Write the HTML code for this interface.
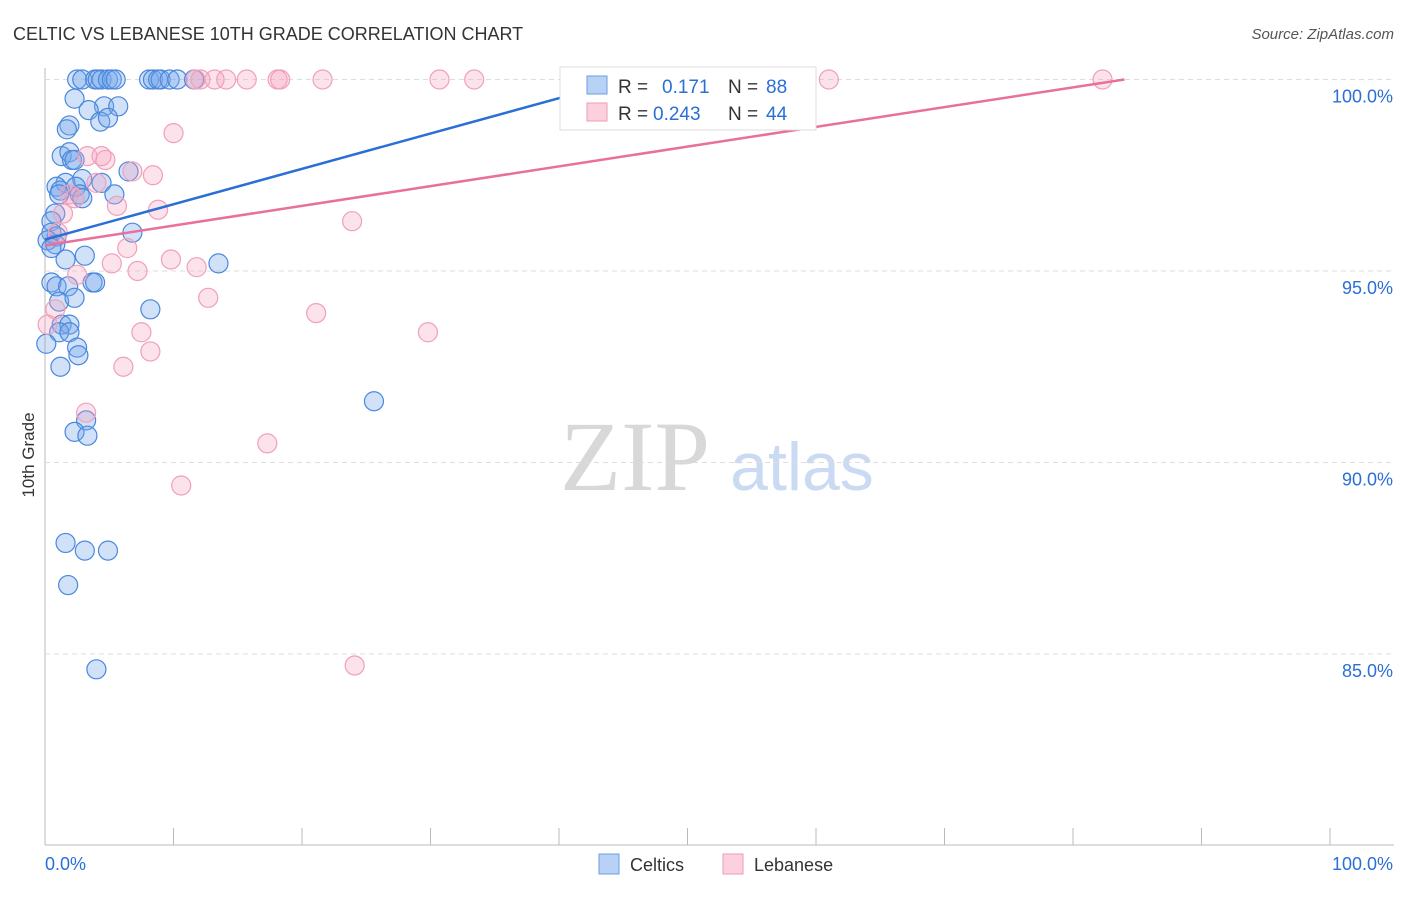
<!DOCTYPE html>
<html><head><meta charset="utf-8"><style>
body{margin:0;background:#fff;font-family:"Liberation Sans",sans-serif}
</style></head><body>
<svg id="c" width="1406" height="892" font-family="Liberation Sans, sans-serif">
<text x="13" y="40" font-size="18" fill="#333">CELTIC VS LEBANESE 10TH GRADE CORRELATION CHART</text>
<text x="1394" y="39" font-size="15" fill="#555" text-anchor="end" font-style="italic">Source: ZipAtlas.com</text>
<text x="34" y="455" font-size="17" fill="#333" transform="rotate(-90 34 455)" text-anchor="middle">10th Grade</text>
<text x="635" y="490" font-size="100" fill="#d8d8d8" text-anchor="middle" style="font-family:'Liberation Serif',serif">ZIP</text>
<text x="802" y="490" font-size="68" fill="#c9daf2" text-anchor="middle">atlas</text>
<g id="grid"></g><g id="pts"></g><g id="lines"></g>
<g>
<rect x="560" y="67" width="256" height="63" fill="#fff" stroke="#ddd"/>
<rect x="587" y="76" width="20" height="18" fill="#b7d2f5" stroke="#6a9fe0"/>
<rect x="587" y="103" width="20" height="18" fill="#fcd0dd" stroke="#f09ab5"/>
<text x="618" y="93" font-size="19" fill="#333">R =</text>
<text x="662" y="93" font-size="19" fill="#2a6fd6">0.171</text>
<text x="728" y="93" font-size="19" fill="#333">N =</text>
<text x="766" y="93" font-size="19" fill="#2a6fd6">88</text>
<text x="618" y="120" font-size="19" fill="#333">R =</text>
<text x="653" y="120" font-size="19" fill="#2a6fd6">0.243</text>
<text x="728" y="120" font-size="19" fill="#333">N =</text>
<text x="766" y="120" font-size="19" fill="#2a6fd6">44</text>
</g>
<g>
<rect x="599" y="854" width="20" height="20" fill="#b7d2f5" stroke="#6a9fe0"/>
<text x="630" y="871" font-size="18" fill="#333">Celtics</text>
<rect x="723" y="854" width="20" height="20" fill="#fcd0dd" stroke="#f09ab5"/>
<text x="754" y="871" font-size="18" fill="#333">Lebanese</text>
</g>
</svg>
<script>
const yTicks=[100,95,90,85];
const xTickLabels=["0.0%","100.0%"];
const blueX=[2.5,2.9,3.9,4.1,4.4,4.9,5.2,5.5,8.1,8.4,8.8,9.0,9.7,10.3,11.6,50,2.3,4.6,3.4,5.7,4.3,4.9,1.9,1.7,1.3,1.9,2.1,2.3,6.5,1.6,2.9,0.9,1.2,2.4,2.7,4.4,5.4,1.1,2.9,0.8,0.5,0.5,0.9,6.8,0.2,0.8,0.5,1.6,3.1,13.5,0.5,0.9,3.7,3.9,1.8,1.1,2.3,8.2,1.3,1.9,1.1,1.9,0.1,2.5,2.6,1.2,25.6,3.2,2.3,3.3,1.6,3.1,4.9,1.8,4.0];
const blueY=[100,100,100,100,100,100,100,100,100,100,100,100,100,100,100,100,99.5,99.3,99.2,99.3,98.9,99.0,98.8,98.7,98.0,98.1,97.9,97.9,97.6,97.3,97.4,97.2,97.1,97.2,97.0,97.3,97.0,97.0,96.9,96.5,96.3,96.0,95.9,96.0,95.8,95.7,95.6,95.3,95.4,95.2,94.7,94.6,94.7,94.7,94.6,94.2,94.3,94.0,93.6,93.6,93.4,93.4,93.1,93.0,92.8,92.5,91.6,91.1,90.8,90.7,87.9,87.7,87.7,86.8,84.6];
const pinkX=[11.7,12.1,13.2,14.1,15.7,18.1,18.3,21.6,30.7,33.4,61.0,82.3,10.0,3.3,4.4,4.7,6.8,8.4,4.0,1.9,2.3,5.6,8.8,1.4,23.9,1.0,6.4,2.5,5.2,7.2,9.8,11.8,12.7,0.8,21.1,29.8,7.5,8.2,6.1,17.3,3.2,10.6,24.1,0.2];
const pinkY=[100,100,100,100,100,100,100,100,100,100,100,100,98.6,98.0,98.0,97.9,97.6,97.5,97.3,97.0,96.9,96.7,96.6,96.5,96.3,96.0,95.6,94.9,95.2,95.0,95.3,95.1,94.3,94.0,93.9,93.4,93.4,92.9,92.5,90.5,91.3,89.4,84.7,93.6];
const blueLine=[[0,95.82],[43,99.79]];
const pinkLine=[[0,95.67],[84,100]];
const X=v=>45+v*12.85, Y=v=>79.5+(100-v)*38.3;
const NS="http://www.w3.org/2000/svg";
function mk(t,a,p){const e=document.createElementNS(NS,t);for(const k in a)e.setAttribute(k,a[k]);document.getElementById(p).appendChild(e);return e;}
let ax=mk('line',{x1:45,y1:68,x2:45,y2:845,stroke:'#bbb'},'grid');


let bx=mk('line',{x1:45,y1:845,x2:1394,y2:845,stroke:'#bbb'},'grid');


for(let i=1;i<=10;i++){const t=mk('line',{x1:X(i*10),y1:828,x2:X(i*10),y2:845,stroke:'#bbb'},'grid');

}
yTicks.forEach(v=>{const g=mk('line',{x1:45,y1:Y(v),x2:1394,y2:Y(v),stroke:'#ddd','stroke-dasharray':'5,4'},'grid');


const t=mk('text',{x:1393,y:Y(v)+23,'font-size':18,fill:'#2a6fd6','text-anchor':'end'},'grid');t.textContent=v.toFixed(1)+'%';

});
xTickLabels.forEach((s,i)=>{const t=mk('text',{x:i?1393:45,y:870,'font-size':18,fill:'#2a6fd6','text-anchor':i?'end':'start'},'grid');t.textContent=s;

});
blueX.forEach((x,i)=>{const c=mk('circle',{cx:X(x),cy:Y(blueY[i]),r:9.5,fill:'rgba(120,170,235,0.35)',stroke:'#4a88dd','stroke-width':1.2},'pts');

});
pinkX.forEach((x,i)=>{const c=mk('circle',{cx:X(x),cy:Y(pinkY[i]),r:9.5,fill:'rgba(245,160,190,0.3)',stroke:'#f0a0ba','stroke-width':1.2},'pts');

});
const bl=mk('line',{x1:X(blueLine[0][0]),y1:Y(blueLine[0][1]),x2:X(blueLine[1][0]),y2:Y(blueLine[1][1]),stroke:'#2a6fd6','stroke-width':2.5},'lines');


const pl=mk('line',{x1:X(pinkLine[0][0]),y1:Y(pinkLine[0][1]),x2:X(pinkLine[1][0]),y2:Y(pinkLine[1][1]),stroke:'#e8709a','stroke-width':2.5},'lines');


</script>
</body></html>
